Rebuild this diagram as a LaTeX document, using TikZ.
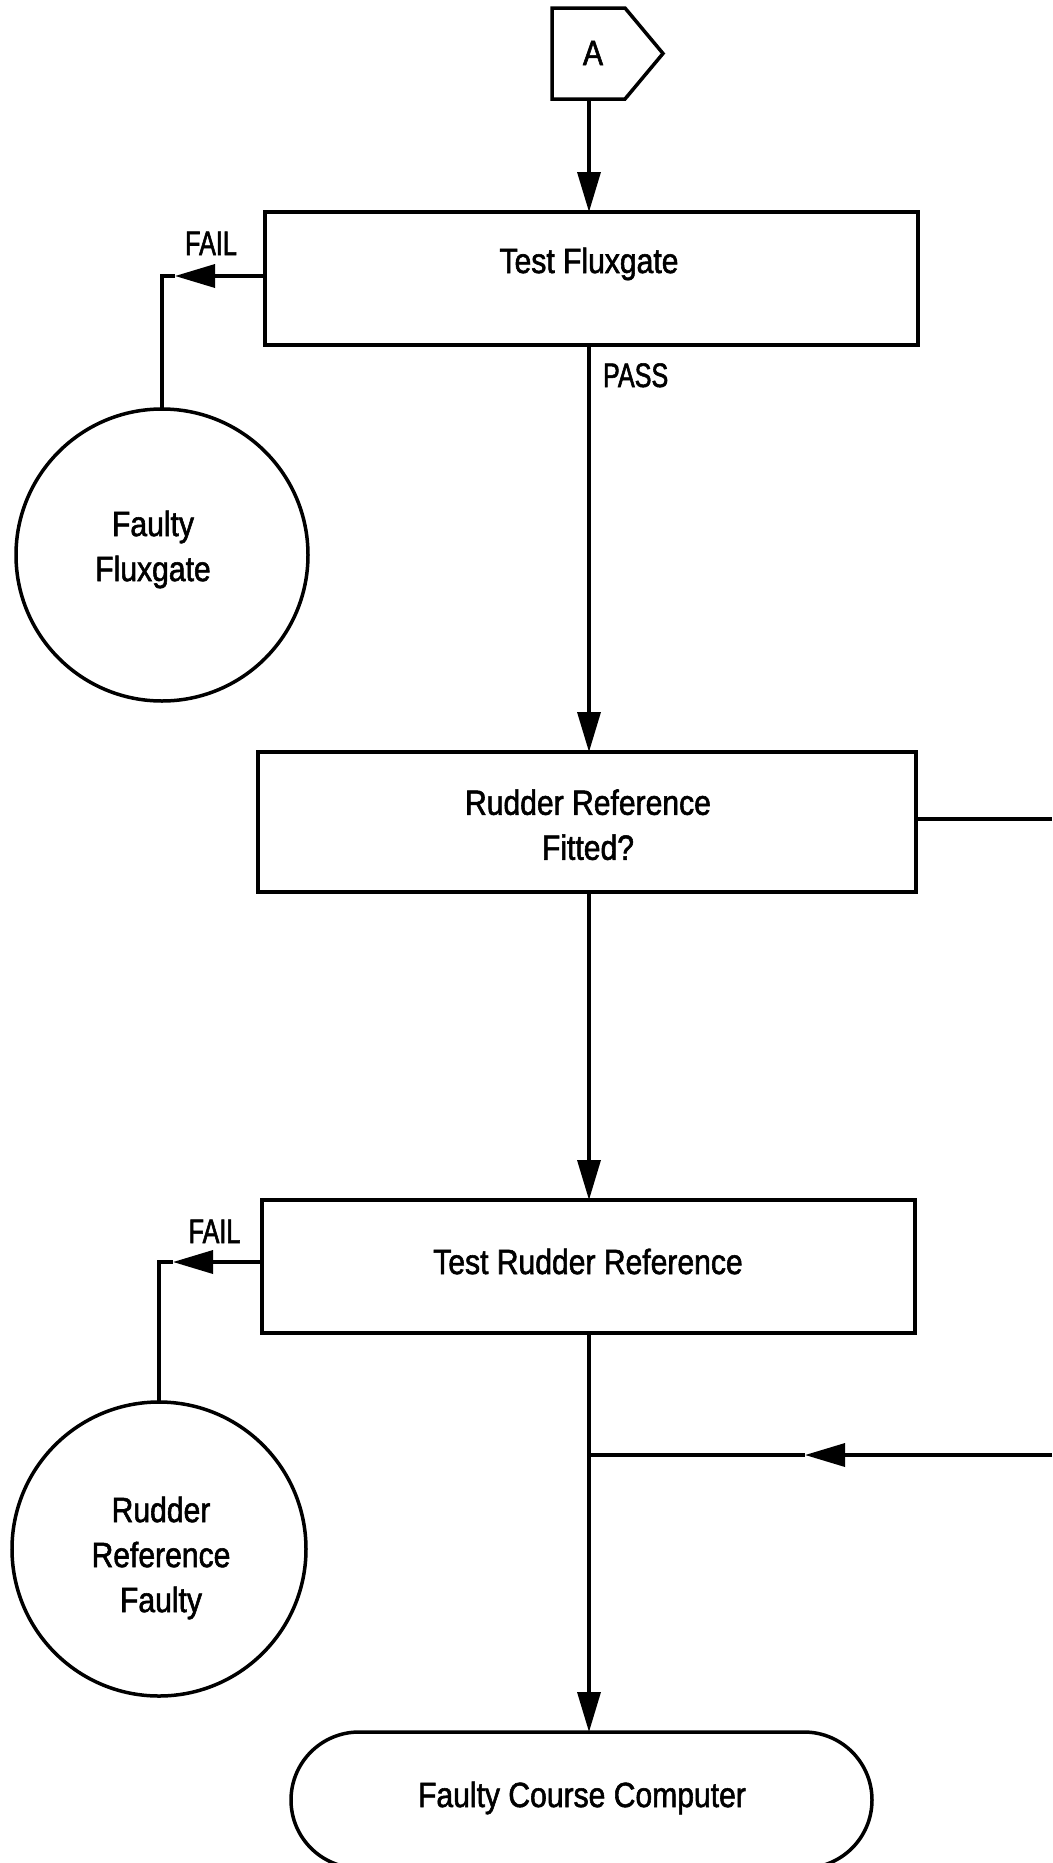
\documentclass[tikz,border=0pt]{standalone}
\usepackage{fontspec}
\setmainfont{Liberation Sans}[FakeStretch=0.86,FakeBold=1.6]
\newfontfamily\lblfont{Liberation Sans}[FakeStretch=0.74,FakeBold=1.6]
\usetikzlibrary{arrows.meta,shapes.misc,calc}
\begin{document}
\begin{tikzpicture}[x=1pt,y=-1pt,
  every node/.style={inner sep=0pt, outer sep=0pt},
  ln/.style={line width=3.5pt},
  arr/.style={ln,-{Triangle[length=40pt,width=23pt]}},
  stepbox/.style={draw,line width=3.5pt,rectangle},
  circ/.style={draw,line width=3.5pt,circle},
  term/.style={draw,line width=3.5pt,rounded rectangle},
  txt/.style={font=\fontsize{35}{45}\selectfont, align=center},
  lbl/.style={font=\lblfont\fontsize{34}{40}\selectfont}
]
\useasboundingbox (0,0) rectangle (1052,1863);
\fill[white] (0,0) rectangle (1052,1863);

% shapes
\node[minimum width=73, minimum height=91] (A) at (588.5,53.5) {};
\draw[ln] (A.north west) -- (A.north east) -- ($(A.east)+(38,0)$) -- (A.south east) -- (A.south west) -- cycle;
\node[stepbox, minimum width=653, minimum height=133] (TF) at (591.5,278.5) {};
\node[stepbox, minimum width=658, minimum height=140] (RF) at (587,822) {};
\node[stepbox, minimum width=653, minimum height=133] (TR) at (588.5,1266.5) {};
\node[circ, minimum size=292] (C1) at (162,555) {};
\node[circ, minimum size=294] (C2) at (159,1549) {};
\node[term, minimum width=581, minimum height=136] (FC) at (581.5,1800) {};

% texts
\node[txt, anchor=base] (tA) at (593,65) {A};
\node[txt, anchor=base] (tTF) at (589,273) {Test Fluxgate};
\node[txt] (tRF) at (588,824.75) {Rudder Reference\\Fitted?};
\node[txt, anchor=base] (tTR) at (588,1274) {Test Rudder Reference};
\node[txt] (tC1) at (153,549.5) {Faulty\\Fluxgate};
\node[txt] (tC2) at (161,1558) {Rudder\\Reference\\Faulty};
\node[txt, anchor=base] (tFC) at (582,1807) {Faulty Course Computer};
\node[lbl, anchor=base west] (pass) at (603,387) {PASS};
\node[lbl, anchor=base] (fail1) at (211,255) {FAIL};
\node[lbl, anchor=base] (fail2) at (214.5,1243) {FAIL};

% connectors
\coordinate (X) at (589,0);
\draw[arr] (A.south -| X) -- (TF.north -| X);
\draw[arr] (TF.south -| X) -- (RF.north -| X);
\draw[arr] (RF.south -| X) -- (TR.north -| X);
\draw[arr] (TR.south -| X) -- (FC.north -| X);

\coordinate (f1tip) at (175,276);
\draw[arr] (TF.west |- f1tip) -- (f1tip);
\draw[ln] (f1tip) -- (C1.north |- f1tip) -- (C1.north);

\coordinate (f2tip) at (173,1262);
\draw[arr] (TR.west |- f2tip) -- (f2tip);
\draw[ln] (f2tip) -- (C2.north |- f2tip) -- (C2.north);

\coordinate (Rout) at (1052,819);
\draw[ln] (RF.east |- Rout) -- (Rout);

\coordinate (Rin) at (1052,1455);
\coordinate (jtip) at (805,1455);
\coordinate (J) at (589,1455);
\draw[arr] (Rin) -- (jtip);
\draw[ln] (jtip) -- (J);
\end{tikzpicture}
\end{document}
